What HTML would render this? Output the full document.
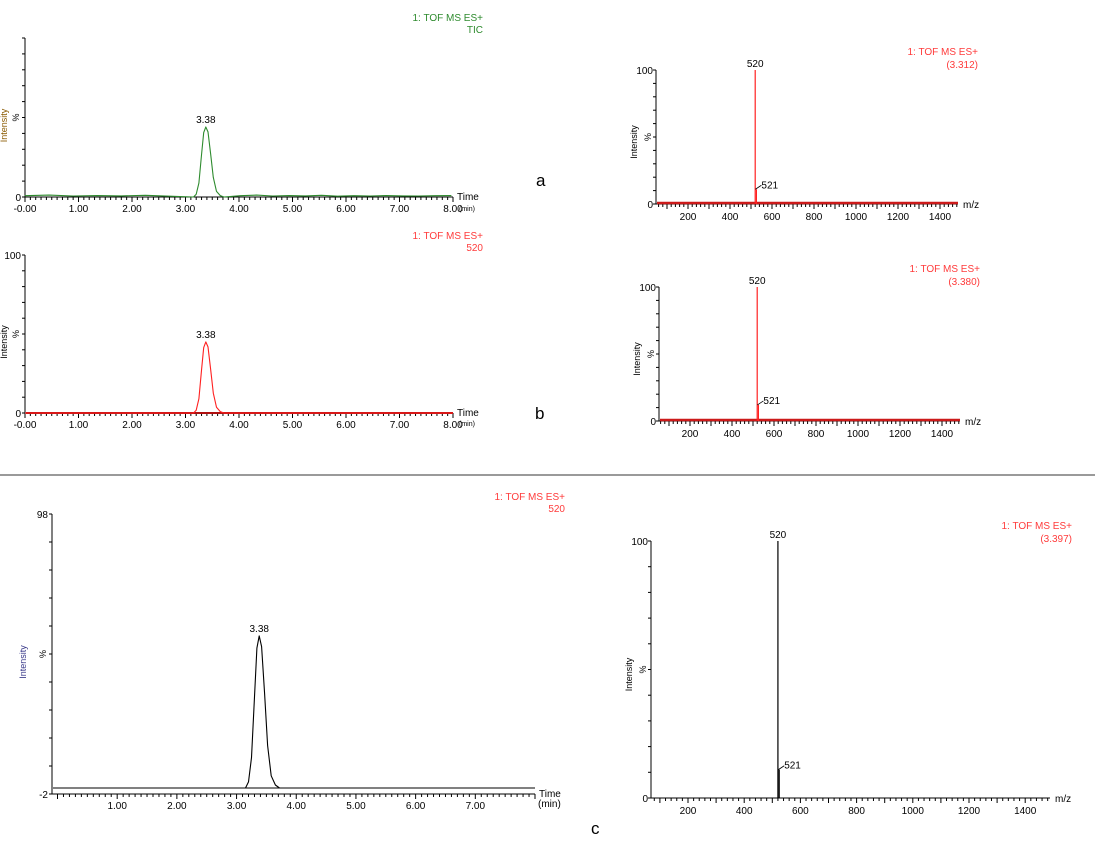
<!DOCTYPE html>
<html><head><meta charset="utf-8"><style>
html,body{margin:0;padding:0;background:#fff;}
svg{display:block;font-family:"Liberation Sans",Arial,sans-serif;}
</style></head><body>
<svg id="fig" width="1095" height="861" viewBox="0 0 1095 861" xmlns="http://www.w3.org/2000/svg">
<line x1="0" y1="475" x2="1095" y2="475" stroke="#9a9a9a" stroke-width="2"/>
<text x="536" y="186" font-size="17" font-family="Liberation Sans, sans-serif">a</text>
<text x="535" y="419" font-size="17">b</text>
<text x="591" y="834" font-size="17">c</text>
</svg>
<script>
// ---- data ----
const peakTimes = [3.15,3.20,3.25,3.30,3.34,3.38,3.42,3.47,3.52,3.58,3.65,3.72];
const peakShape = [0,4,20,60,92,100,93,62,28,8,2,0];
const peakHeightA = 44;   // % of axis
const peakHeightB = 45;
const peakHeightC = 55.5;
const peakLabel = "3.38";
const timeTicks = [0,1,2,3,4,5,6,7,8];
const timeTickLabelsAB = ["-0.00","1.00","2.00","3.00","4.00","5.00","6.00","7.00","8.00"];
const timeTickLabelsC = ["","1.00","2.00","3.00","4.00","5.00","6.00","7.00",""];
const mzTicks = [200,400,600,800,1000,1200,1400];
const specMz = [520,521];
const specA = [100,11];
const specB = [100,12];
const specC = [100,11];
const noiseA = [0.8,1.2,0.6,0.9,0.7,1.1,0.5,0.8,0.6,0.9,0.7,0.6,0.8,0.9];

const svg = document.getElementById('fig');
const NS = 'http://www.w3.org/2000/svg';
function mk(tag, attrs, parent){const e=document.createElementNS(NS,tag);for(const k in attrs)e.setAttribute(k,attrs[k]);(parent||svg).appendChild(e);return e;}
function txt(x,y,s,size,fill,anchor,parent){const t=mk('text',{x:x,y:y,'font-size':size,fill:fill,'text-anchor':anchor||'start'},parent);t.textContent=s;return t;}

function chrom(o){
  const g=mk('g',{});
  
  
  const X=t=>o.x0+(t-o.t0)*(o.x1-o.x0)/(o.t1-o.t0);
  const Y=v=>o.yb-(v-o.vmin)*(o.yb-o.yt)/(o.vmax-o.vmin);
  const ya=mk('line',{x1:o.ax,y1:o.yt,x2:o.ax,y2:o.axisY,stroke:'#000','stroke-width':1},g);
  
  const xa=mk('line',{x1:o.ax,y1:o.axisY,x2:o.xend,y2:o.axisY,stroke:'#000','stroke-width':1},g);
  
  for(let i=0;i<=10;i++){const y=o.yt+(o.axisY-o.yt)*i/10;mk('line',{x1:o.ax-3,y1:y,x2:o.ax,y2:y,stroke:'#000'},g);}
  for(let t=o.t0;t<=o.t1+0.001;t+=0.1){const x=X(t);if(x<o.ax||x>o.xend)continue;const major=Math.abs(t-Math.round(t))<0.01;mk('line',{x1:x,y1:o.axisY,x2:x,y2:o.axisY+(major?5:3),stroke:'#000'},g);}
  timeTicks.forEach((t,i)=>{const l=o.labels[i];if(!l)return;const e=txt(X(t),o.axisY+15,l,10,'#000','middle',g);});
  const yl1=txt(o.ax-4,o.yt+4,o.ytop,10,'#000','end',g);
  const yl0=txt(o.ax-4,o.axisY+4,o.ybot,10,'#000','end',g);
  const pc=txt(0,0,'%',9,'#000','middle',g);pc.setAttribute('transform',`translate(${o.ax-6},${(o.yt+o.axisY)/2}) rotate(-90)`);
  const it=txt(0,0,'Intensity',9,o.ic,'middle',g);it.setAttribute('transform',`translate(${o.ax-o.iOff},${(o.yt+o.axisY)/2+8}) rotate(-90)`);
  const tl=txt(o.xend+4,o.axisY+3,'Time',10,'#000','start',g);
  const mn=txt(o.minX,o.minY,'(min)',o.minS,'#000','start',g);
  if(o.baseColor){const b=mk('line',{x1:o.ax+1,y1:Y(0),x2:o.xend,y2:Y(0),stroke:o.baseColor,'stroke-width':o.baseW},g);}
  let d='M'+X(o.t0)+','+Y(o.noise?o.noise[0]:0);
  if(o.noise){o.noise.forEach((v,i)=>{const t=i*(peakTimes[0]/ (o.noise.length/2));if(t<peakTimes[0])d+=' L'+X(t).toFixed(1)+','+Y(v).toFixed(1);});}
  peakTimes.forEach((t,i)=>{d+=' L'+X(t).toFixed(1)+','+Y(peakShape[i]*o.h/100).toFixed(1);});
  if(o.noise){o.noise.forEach((v,i)=>{const t=peakTimes[peakTimes.length-1]+(i+1)*(o.t1-3.75)/o.noise.length;d+=' L'+X(t).toFixed(1)+','+Y(v).toFixed(1);});}
  else d+=' L'+X(o.t1)+','+Y(0);
  const p=mk('path',{d:d,fill:'none',stroke:o.color,'stroke-width':1.1,'stroke-linejoin':'round'},g);
  
  const pl=txt(X(3.38),Y(o.h)-4,peakLabel,10,'#000','middle',g);
  const t1=txt(o.titleX,o.titleY,'1: TOF MS ES+',10,o.titleC,'end',g);
  const t2=txt(o.titleX,o.titleY+12,o.sub,10,o.titleC,'end',g);
}

function spec(o){
  const g=mk('g',{});
  
  
  const X=m=>o.x200+(m-200)*o.k;
  const Y=v=>o.yb-v*(o.yb-o.yt)/100;
  const ya=mk('line',{x1:o.ax,y1:o.yt,x2:o.ax,y2:o.yb,stroke:'#000'},g);
  const xa=mk('line',{x1:o.ax,y1:o.yb,x2:o.xend,y2:o.yb,stroke:'#000'},g);
  for(let i=0;i<=10;i++){const y=o.yt+(o.yb-o.yt)*i/10;mk('line',{x1:o.ax-3,y1:y,x2:o.ax,y2:y,stroke:'#000'},g);}
  for(let m=60;m<=1500;m+=20){const x=X(m);if(x<o.ax||x>o.xend)continue;const major=m%100===0;mk('line',{x1:x,y1:o.yb,x2:x,y2:o.yb+(major?5:3),stroke:'#000'},g);}
  mzTicks.forEach(m=>{const e=txt(X(m),o.yb+16,String(m),10,'#000','middle',g);});
  const a=txt(o.ax-3,o.yt+4,'100',10,'#000','end',g);
  const b=txt(o.ax-3,o.yb+4,'0',10,'#000','end',g);
  const pc=txt(0,0,'%',9,'#000','middle',g);pc.setAttribute('transform',`translate(${o.ax-5},${(o.yt+o.yb)/2}) rotate(-90)`);
  const it=txt(0,0,'Intensity',9,'#000','middle',g);it.setAttribute('transform',`translate(${o.ax-19},${(o.yt+o.yb)/2+5}) rotate(-90)`);
  const mzl=txt(o.xend+5,o.yb+4,'m/z',10,'#000','start',g);
  if(o.baseColor){const bl=mk('line',{x1:o.ax+1,y1:o.yb-1,x2:o.xend,y2:o.yb-1,stroke:o.baseColor,'stroke-width':2.5},g);}
  specMz.forEach((m,i)=>{
    const x=X(m)+(i?1:0);
    const l=mk('line',{x1:x,y1:o.yb,x2:x,y2:Y(o.vals[i]),stroke:o.color,'stroke-width':1.2},g);
    
    
  });
  const l1=txt(X(specMz[0]),o.yt-3,String(specMz[0]),10,'#000','middle',g);
  const yy=Y(o.vals[1]);
  mk('line',{x1:X(specMz[1]),y1:yy,x2:X(specMz[1])+6,y2:yy-4,stroke:'#000','stroke-width':0.8},g);
  const l2=txt(X(specMz[1])+6,yy-1,String(specMz[1]),10,'#000','start',g);
  const t1=txt(o.titleX,o.titleY,'1: TOF MS ES+',10,'#ff3b3b','end',g);
  const t2=txt(o.titleX,o.titleY+13,o.sub,10,'#ff3b3b','end',g);
}

chrom({name:'chromatogram-a',x0:25,x1:453,t0:0,t1:8,ax:25,xend:453,yt:38,yb:197,axisY:197,vmin:0,vmax:100,h:peakHeightA,
  labels:timeTickLabelsAB,ytop:'',ybot:'0',color:'#2e8b2e',ic:'#8a5a00',iOff:18,noise:noiseA,baseColor:null,
  titleX:483,titleY:21,titleC:'#2e8b2e',sub:'TIC',minX:459,minY:211,minS:7});
chrom({name:'chromatogram-b',x0:25,x1:453,t0:0,t1:8,ax:25,xend:453,yt:255,yb:413,axisY:413,vmin:0,vmax:100,h:peakHeightB,
  labels:timeTickLabelsAB,ytop:'100',ybot:'0',color:'#ff2020',ic:'#000',iOff:18,noise:null,baseColor:'#b01010',baseW:2,
  titleX:483,titleY:239,titleC:'#ff3b3b',sub:'520',minX:459,minY:426,minS:7});
chrom({name:'chromatogram-c',x0:57.5,x1:535,t0:0,t1:8,ax:52,xend:535,yt:514,yb:788,axisY:794,vmin:0,vmax:100,h:peakHeightC,
  labels:timeTickLabelsC,ytop:'98',ybot:'-2',color:'#000',ic:'#3a3a8a',iOff:26,noise:null,baseColor:'#000',baseW:1,
  titleX:565,titleY:500,titleC:'#ff3b3b',sub:'520',minX:538,minY:807,minS:10});

spec({name:'spectrum-a',ax:656,xend:958,yt:70,yb:204,x200:688,k:0.21,vals:specA,color:'#ff2020',baseColor:'#cc1a1a',titleX:978,titleY:55,sub:'(3.312)'});
spec({name:'spectrum-b',ax:659,xend:960,yt:287,yb:421,x200:690,k:0.21,vals:specB,color:'#ff2020',baseColor:'#cc1a1a',titleX:980,titleY:272,sub:'(3.380)'});
spec({name:'spectrum-c',ax:651,xend:1050,yt:541,yb:798,x200:688,k:0.281,vals:specC,color:'#000',baseColor:null,titleX:1072,titleY:529,sub:'(3.397)'});
</script>
</body></html>
